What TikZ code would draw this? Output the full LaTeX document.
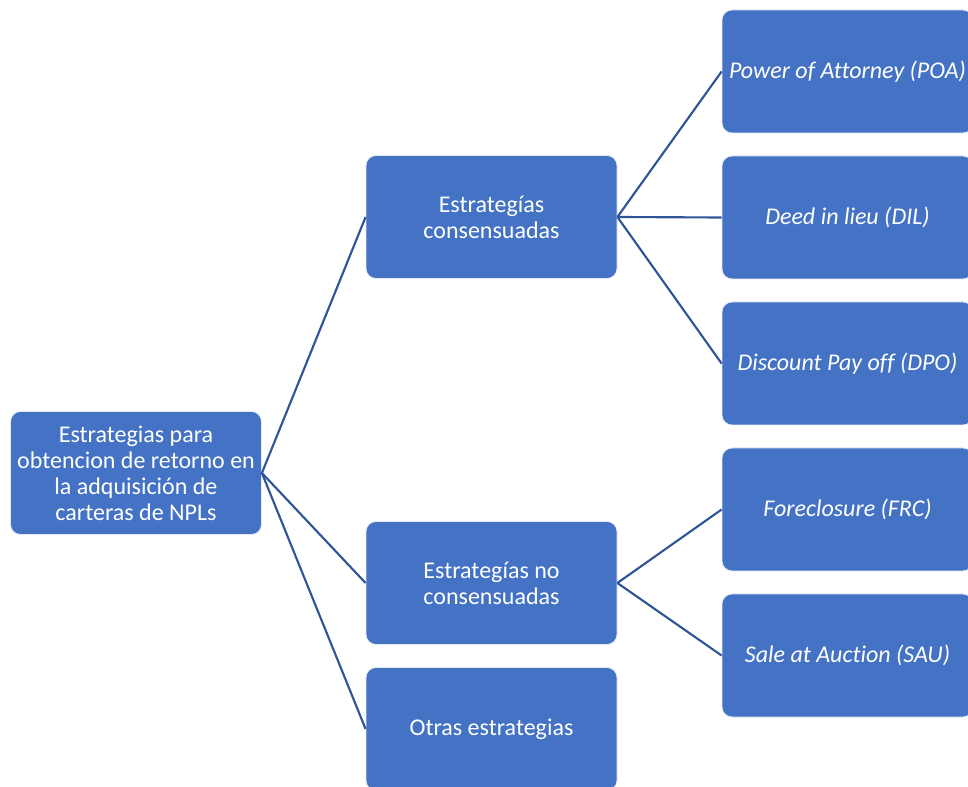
\documentclass[tikz,border=0pt]{standalone}
\usepackage{fontspec}
\setmainfont{Carlito}[Ligatures=NoCommon]
\usepackage{xcolor}
\definecolor{boxblue}{RGB}{68,114,196}
\definecolor{linkblue}{RGB}{47,85,151}

\begin{document}
\begin{tikzpicture}[x=0.75pt,y=0.75pt,yscale=-1,xscale=1,
  box/.style={draw=white!85!boxblue, line width=0.6pt, fill=boxblue, rounded corners=7.5pt,
    minimum width=188.25pt, minimum height=92.25pt, inner sep=0pt, align=center,
    text=white, font=\fontsize{18}{19.5}\selectfont},
  leaf/.style={box, font=\fontsize{18}{19.5}\selectfont\itshape},
  link/.style={draw=linkblue, line width=1.6pt}]
\useasboundingbox (0,0) rectangle (968,787);

%Root
\node [box] (root) at (136,473) {Estrategias para\\obtencion de retorno en\\la adquisición de\\carteras de NPLs};

%Middle level
\node [box] (cons) at (491.5,217) {Estrategías\\consensuadas};
\node [box] (nocons) at (491.5,583) {Estrategías no\\consensuadas};
\node [box] (otras) at (491.5,729) {Otras estrategias};

%Leaves
\node [leaf] (poa) at (847.5,71.5) {Power of Attorney (POA)};
\node [leaf] (dil) at (847.5,217.5) {Deed in lieu (DIL)};
\node [leaf] (dpo) at (847.5,363.5) {Discount Pay off (DPO)};
\node [leaf] (frc) at (847.5,509.5) {Foreclosure (FRC)};
\node [leaf] (sau) at (847.5,655.5) {Sale at Auction (SAU)};

%Links
\draw [link] (root.east) -- (cons.west);
\draw [link] (root.east) -- (nocons.west);
\draw [link] (root.east) -- (otras.west);
\draw [link] (cons.east) -- (poa.west);
\draw [link] (cons.east) -- (dil.west);
\draw [link] (cons.east) -- (dpo.west);
\draw [link] (nocons.east) -- (frc.west);
\draw [link] (nocons.east) -- (sau.west);
\end{tikzpicture}
\end{document}
